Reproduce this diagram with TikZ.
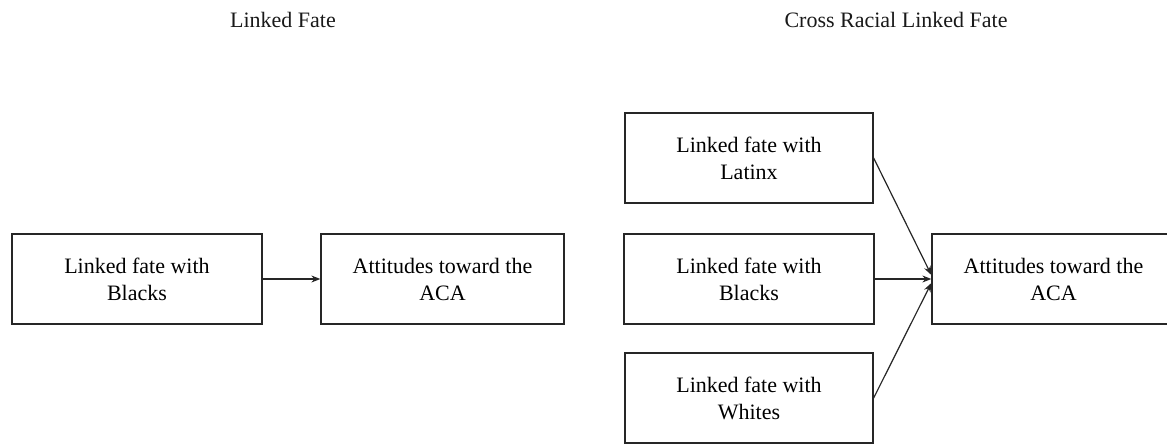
\documentclass[tikz,border=0pt]{standalone}
\usepackage{fontspec}
\setmainfont{Liberation Serif}
\usetikzlibrary{arrows.meta,calc}
\begin{document}
\begin{tikzpicture}[x=1pt,y=-1pt,
  box/.style={draw=black!85, line width=1.3pt, align=center, inner sep=0pt,
    minimum height=90pt, font=\fontsize{22}{27}\selectfont},
  title/.style={font=\fontsize{22}{27}\selectfont, text=black!90},
  link/.style={draw=black!85, line width=1.2pt, -{Stealth[length=9pt,width=7pt]}}]
\useasboundingbox (0,0) rectangle (1167,445);

% left panel
\node[title] (t1) at (283,20) {Linked Fate};
\node[box, minimum width=250pt] (lb) at (137,279) {Linked fate with\\Blacks};
\node[box, minimum width=243pt] (acaL) at (442.5,279) {Attitudes toward the\\ACA};
\draw[link] (lb.east) -- (acaL.west);

% right panel
\node[title] (t2) at (896,20) {Cross Racial Linked Fate};
\node[box, minimum width=248pt] (lat) at (749,158) {Linked fate with\\Latinx};
\node[box, minimum width=250pt] (blk) at (749,279) {Linked fate with\\Blacks};
\node[box, minimum width=248pt] (wht) at (749,398) {Linked fate with\\Whites};
\node[box, minimum width=243pt] (acaR) at (1053.5,279) {Attitudes toward the\\ACA};
\draw[link] (lat.east) -- ($(acaR.west)+(0,-4)$);
\draw[link] (blk.east) -- (acaR.west);
\draw[link] (wht.east) -- ($(acaR.west)+(0,4)$);
\end{tikzpicture}
\end{document}
